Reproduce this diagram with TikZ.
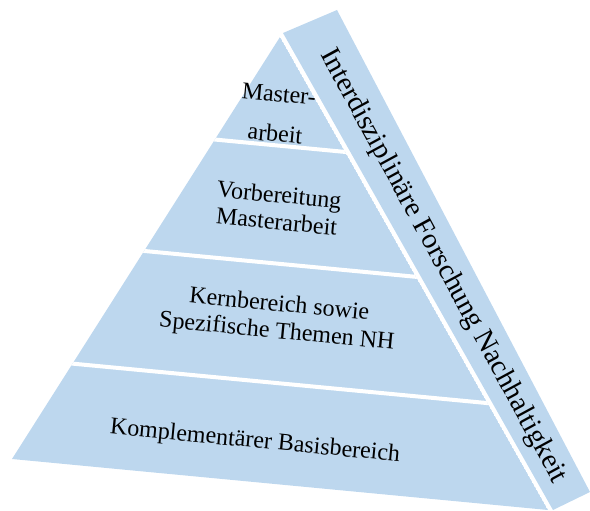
\documentclass[tikz,border=0pt]{standalone}
\usepackage{fontspec}
\setmainfont{Liberation Serif}
\usetikzlibrary{calc}
\definecolor{pyrblue}{RGB}{189,215,238}
\begin{document}
\begin{tikzpicture}[x=1pt, y=-1pt,
    face/.style={fill=pyrblue},
    gap/.style={draw=white, line width=4pt, shorten <=-8pt, shorten >=-8pt},
    layertext/.style={align=center, rotate=-5.5, font=\fontsize{24}{27}\selectfont},
    striptext/.style={rotate=-61.5, font=\fontsize{28.5}{32}\selectfont}]
    \useasboundingbox (0,0) rectangle (590,511);

    % Pyramid
    \coordinate (apex) at (280,37);
    \coordinate (bl) at (12,459);
    \coordinate (br) at (548,510);
    \begin{scope}
      \clip (apex) -- (bl) -- (br) -- cycle;
      \fill[face] (apex) -- (bl) -- (br) -- cycle;
      \foreach \f in {0.243, 0.507, 0.774} {
        \draw[gap] ($(apex)!\f!(bl)$) -- ($(apex)!\f!(br)$);
      }
    \end{scope}

    % Side strip
    \coordinate (s1) at (283,33);
    \coordinate (s2) at (337,10);
    \coordinate (s3) at (590,492);
    \coordinate (s4) at (553,510);
    \fill[face] (s1) -- (s2) -- (s3) -- (s4) -- cycle;

    % Layers
    \node[layertext] (master) at (277,114) {Master-\\[13pt]arbeit};
    \node[layertext] (prep) at (278,208) {Vorbereitung\\Masterarbeit};
    \node[layertext] (core) at (278,319) {Kernbereich sowie\\Spezifische Themen NH};
    \node[layertext] (basis) at (255,442) {Komplementärer Basisbereich};
    \node[striptext] (research) at (443,266) {Interdisziplinäre Forschung Nachhaltigkeit};
\end{tikzpicture}
\end{document}
